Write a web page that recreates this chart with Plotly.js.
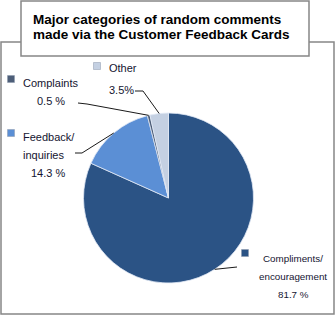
<!DOCTYPE html>
<html>
<head>
<meta charset="utf-8">
<script src="https://cdn.plot.ly/plotly-3.0.1.min.js"></script>
<style>html,body{margin:0;padding:0;background:#fff}#chart{width:336px;height:315px}</style>
</head>
<body>
<div id="chart"></div>
<script>
// ---- data ----
const categories = ["Compliments/ encouragement", "Feedback/ inquiries", "Complaints", "Other"];
const values = [81.7, 14.3, 0.5, 3.5];
const valueLabels = ["81.7 %", "14.3 %", "0.5 %", "3.5%"];
const sliceColors = ["#2b5385", "#5b8fd5", "#4d5e78", "#c4d0e2"];
const titleLines = ["Major categories of random comments", "made via the Customer Feedback Cards"];

// ---- layout helpers ----
const W = 336, H = 315;
const px = x => x / W, py = y => 1 - y / H;
const cx = 168.5, cy = 198, R = 85;
const txtColor = "#141430";
const font = {family: "Liberation Sans, Arial, sans-serif", size: 11, color: txtColor};

// label layout (positions of text blocks, not data)
const labelSpec = [
  {lines: ["Compliments/", "encouragement", valueLabels[0]], x: 293, y0: 258, anchor: "center", mk: [245, 253], lineFrom: [237, 267], font: {family: "Liberation Sans, Arial, sans-serif", size: 9.8, color: txtColor}},
  {lines: ["Feedback/", "inquiries", valueLabels[1]], x: 21, y0: 137, anchor: "left", xs: [21, 21, 29], mk: [11, 133], lineFrom: [75, 153], bend: [82, 153]},
  {lines: ["Complaints", valueLabels[2]], x: 21, y0: 83, anchor: "left", xs: [21, 35], mk: [11, 79], lineFrom: [78, 103], bend: [87, 104]},
  {lines: ["Other", valueLabels[3]], x: 107, y0: 68, anchor: "left", xs: [107, 107], ys: [68, 90], mk: [97, 66], lineFrom: [135, 91], bend: [143, 91]}
];

const total = values.reduce((a, b) => a + b, 0);
let cum = 0;
const midAngles = values.map(v => { const m = (cum + v / 2) / total * 2 * Math.PI; cum += v; return m; });

const shapes = [
  {type: "rect", xref: "paper", yref: "paper", x0: px(1), x1: px(334), y0: py(42), y1: py(314), line: {color: "#878787", width: 1.5}, layer: "below"},
  {type: "rect", xref: "paper", yref: "paper", x0: px(21), x1: px(309), y0: py(1), y1: py(56), fillcolor: "#ffffff", line: {color: "#878787", width: 1.5}, layer: "below"}
];
const annotations = [];

titleLines.forEach((t, i) => annotations.push({
  text: "<b>" + t + "</b>", xref: "paper", yref: "paper", x: px(31), y: py(19 + i * 15.5),
  xanchor: "left", yanchor: "middle", showarrow: false,
  font: {family: "Liberation Sans, Arial, sans-serif", size: 13.5, color: "#000000"}
}));

labelSpec.forEach((s, i) => {
  const f = s.font || font;
  s.lines.forEach((ln, j) => annotations.push({
    text: ln, xref: "paper", yref: "paper",
    x: px(s.xs ? s.xs[j] : s.x), y: py(s.ys ? s.ys[j] : s.y0 + j * 18),
    xanchor: s.anchor, yanchor: "middle", showarrow: false, font: f
  }));
  shapes.push({type: "rect", xref: "paper", yref: "paper",
    x0: px(s.mk[0] - 3.5), x1: px(s.mk[0] + 3.5), y0: py(s.mk[1] - 3.5), y1: py(s.mk[1] + 3.5),
    fillcolor: sliceColors[i], line: {color: "#8a97aa", width: 0.5}});
  const a = midAngles[i];
  const ex = cx + R * Math.sin(a), ey = cy - R * Math.cos(a);
  let path = "M" + px(s.lineFrom[0]) + "," + py(s.lineFrom[1]);
  if (s.bend) path += " L" + px(s.bend[0]) + "," + py(s.bend[1]);
  path += " L" + px(ex) + "," + py(ey);
  shapes.push({type: "path", xref: "paper", yref: "paper", path: path, line: {color: "#1a1a1a", width: 1}, layer: "above"});
});

const trace = {
  type: "pie", labels: categories, values: values, sort: false, direction: "clockwise", rotation: 0,
  textinfo: "none", hoverinfo: "label+percent",
  marker: {colors: sliceColors, line: {color: "rgba(225,232,245,0.8)", width: 1}},
  domain: {x: [px(cx - R), px(cx + R)], y: [py(cy + R), py(cy - R)]},
  showlegend: false
};

Plotly.newPlot("chart", [trace], {
  width: W, height: H, margin: {l: 0, r: 0, t: 0, b: 0},
  paper_bgcolor: "#ffffff", showlegend: false, shapes: shapes, annotations: annotations
}, {staticPlot: true});
</script>
</body>
</html>
